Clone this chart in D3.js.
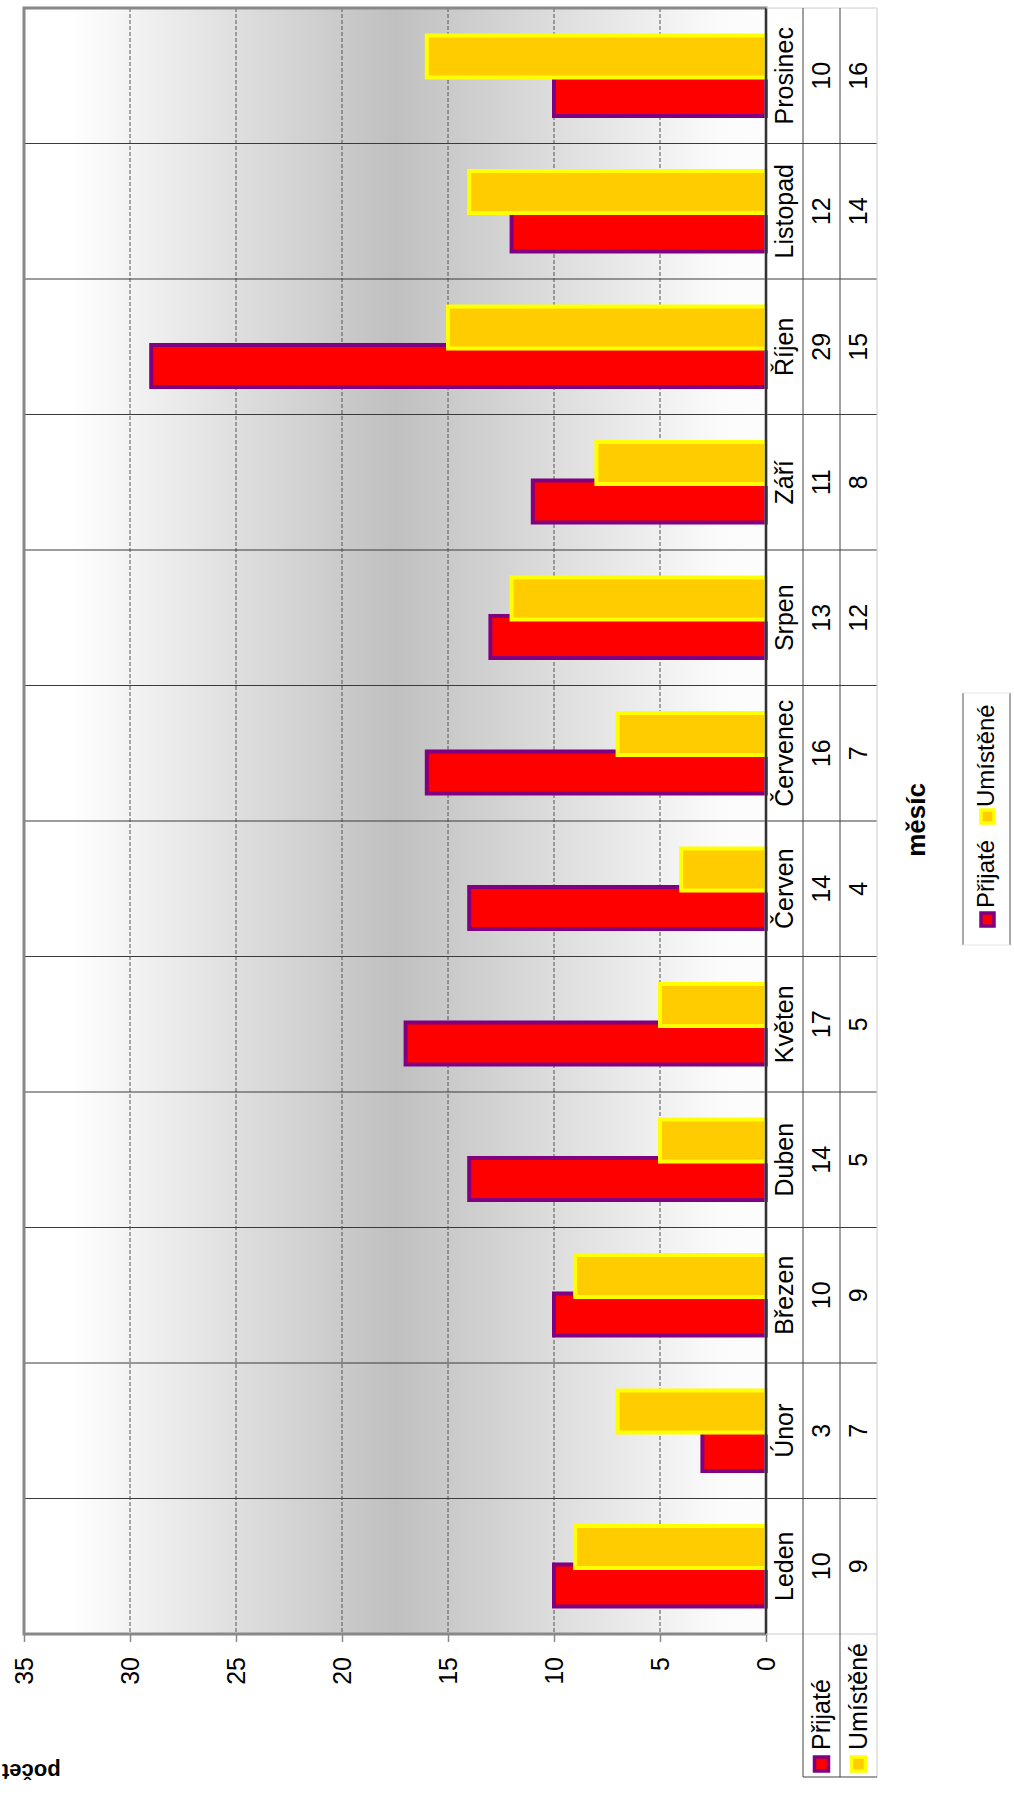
<!DOCTYPE html>
<html><head><meta charset="utf-8">
<script src="https://cdn.jsdelivr.net/npm/d3@7"></script>
<style>body{margin:0;background:#fff} svg{display:block} text{font-family:"Liberation Sans",Arial,sans-serif;fill:#000}</style>
</head><body><svg id="c" width="1014" height="1820"></svg>
<script>
const months = ["Leden","Únor","Březen","Duben","Květen","Červen","Červenec","Srpen","Září","Říjen","Listopad","Prosinec"];
const prijate = [10,3,10,14,17,14,16,13,11,29,12,10];
const umistene = [9,7,9,5,5,4,7,12,8,15,14,16];
const seriesNames = ["Přijaté","Umístěné"];
const valueTicks = [0,5,10,15,20,25,30,35];
const gridTicks = [5,10,15,20,25,30];
const axisTitleX = "měsíc";
const axisTitleY = "počet";

const series = [
  {name: seriesNames[0], values: prijate, fill: "#FF0000", stroke: "#800080"},
  {name: seriesNames[1], values: umistene, fill: "#FFCC00", stroke: "#FFFF00"}
];

const svg = d3.select("#c");
const P = {left: 24, right: 766, top: 8, bottom: 1634};
const colX = [766, 803, 840, 877];
const tableBottom = 1777;
const FS = 25;

const x = d3.scaleLinear().domain([0, 35]).range([P.right, P.left]);
const y = d3.scaleBand().domain(months).range([P.bottom, P.top]);
const band = y.bandwidth();

// gradient background
const defs = svg.append("defs");
const grad = defs.append("linearGradient").attr("id", "bg").attr("x1", 0).attr("x2", 1).attr("y1", 0).attr("y2", 0);
[[0, "#ffffff"], [0.06, "#ffffff"], [0.5, "#c0c0c0"], [0.94, "#fbfbfb"], [1, "#fdfdfd"]].forEach(([o, c]) =>
  grad.append("stop").attr("offset", o).attr("stop-color", c));

svg.append("rect").attr("x", P.left).attr("y", P.top).attr("width", P.right - P.left).attr("height", P.bottom - P.top)
  .attr("fill", "url(#bg)");

// value gridlines (dashed)
svg.append("g").selectAll("line").data(gridTicks).join("line")
  .attr("x1", d => x(d)).attr("x2", d => x(d)).attr("y1", P.top).attr("y2", P.bottom)
  .attr("stroke", "#555").attr("stroke-width", 1).attr("stroke-dasharray", "4,2");

// category separators (plot + table)
const seps = months.slice(0, months.length - 1).map(m => y(m));
svg.append("g").selectAll("line").data(seps).join("line")
  .attr("x1", P.left).attr("x2", colX[3]).attr("y1", d => d).attr("y2", d => d)
  .attr("stroke", "#3a3a3a").attr("stroke-width", 1);

// bars
const barT = band * 0.31;
const step = band * 0.284;
series.forEach((s, i) => {
  svg.append("g").selectAll("rect").data(s.values).join("rect")
    .attr("x", d => x(d)).attr("width", d => x(0) - x(d))
    .attr("y", (d, j) => y(months[j]) + band / 2 + (0.5 - i) * step - barT / 2)
    .attr("height", barT)
    .attr("fill", s.fill).attr("stroke", s.stroke).attr("stroke-width", 4);
});

// plot border
svg.append("rect").attr("x", P.left).attr("y", P.top).attr("width", P.right - P.left).attr("height", P.bottom - P.top)
  .attr("fill", "none").attr("stroke", "#888").attr("stroke-width", 3);
// category axis line (value 0)
svg.append("line").attr("x1", x(0)).attr("x2", x(0)).attr("y1", P.top).attr("y2", P.bottom)
  .attr("stroke", "#333").attr("stroke-width", 2);

// value axis
const axG = svg.append("g").attr("transform", `translate(0,${P.bottom})`)
  .call(d3.axisBottom(x).tickValues(valueTicks).tickSize(8).tickFormat(d3.format("d")));
axG.select(".domain").remove();
axG.selectAll(".tick line").attr("stroke", "#888").attr("stroke-width", 1.5);
axG.selectAll(".tick text")
  .attr("x", 0).attr("y", 0).attr("dy", "0.35em")
  .attr("transform", "translate(0,23) rotate(-90)")
  .attr("text-anchor", "end").attr("font-size", FS).attr("fill", "#000")
  .style("font-family", "'Liberation Sans', Arial, sans-serif");

// data table lines
const tl = svg.append("g");
function ln(x1, y1, x2, y2, c) {
  tl.append("line").attr("x1", x1).attr("y1", y1).attr("x2", x2).attr("y2", y2).attr("stroke", c).attr("stroke-width", 1);
}
ln(colX[0], P.top, colX[3], P.top, "#ccc");
ln(colX[0], P.bottom, colX[3], P.bottom, "#ccc");
ln(colX[3], P.top, colX[3], tableBottom, "#ccc");
ln(colX[1], P.top, colX[1], tableBottom, "#444");
ln(colX[2], P.top, colX[2], tableBottom, "#444");
ln(colX[1], tableBottom, colX[3], tableBottom, "#444");

function vtext(g, tx, ty, str, anchor, size, weight) {
  return g.append("text").attr("transform", `translate(${tx},${ty}) rotate(-90)`)
    .attr("text-anchor", anchor).attr("dy", "0.35em").attr("font-size", size)
    .attr("font-weight", weight || "normal").text(str);
}

// category labels
const tg = svg.append("g");
months.forEach(m => vtext(tg, (colX[0] + colX[1]) / 2, y(m) + band / 2, m, "middle", FS));
// values
series.forEach((s, i) => {
  const cx = (colX[i + 1] + colX[i + 2]) / 2;
  s.values.forEach((v, j) => vtext(tg, cx, y(months[j]) + band / 2, String(v), "middle", FS));
  // legend keys within table
  tg.append("rect").attr("x", cx - 7).attr("y", 1757).attr("width", 14).attr("height", 14)
    .attr("fill", s.fill).attr("stroke", s.stroke).attr("stroke-width", 3.5);
  vtext(tg, cx, 1750, s.name, "start", FS);
});

// axis titles
svg.append("text").attr("transform", `translate(925,820) rotate(-90)`)
  .attr("text-anchor", "middle").attr("font-size", 26).attr("font-weight", "bold").text(axisTitleX);
svg.append("text").attr("transform", `translate(2,1764) rotate(180)`)
  .attr("text-anchor", "end").attr("font-size", 22).attr("font-weight", "bold").text(axisTitleY);

// legend
const lg = svg.append("g");
lg.append("line").attr("x1", 963).attr("x2", 963).attr("y1", 693).attr("y2", 945).attr("stroke", "#555");
lg.append("line").attr("x1", 1010).attr("x2", 1010).attr("y1", 693).attr("y2", 945).attr("stroke", "#555");
lg.append("line").attr("x1", 963).attr("x2", 1010).attr("y1", 693).attr("y2", 693).attr("stroke", "#e4e4e4");
lg.append("line").attr("x1", 963).attr("x2", 1010).attr("y1", 945).attr("y2", 945).attr("stroke", "#e4e4e4");
const legY = [[919.5, 908], [816.5, 807]];
series.forEach((s, i) => {
  lg.append("rect").attr("x", 987.5 - 6.5).attr("y", legY[i][0] - 6.5).attr("width", 13).attr("height", 13)
    .attr("fill", s.fill).attr("stroke", s.stroke).attr("stroke-width", 3.5);
  vtext(lg, 986, legY[i][1], s.name, "start", 24);
});
</script></body></html>
